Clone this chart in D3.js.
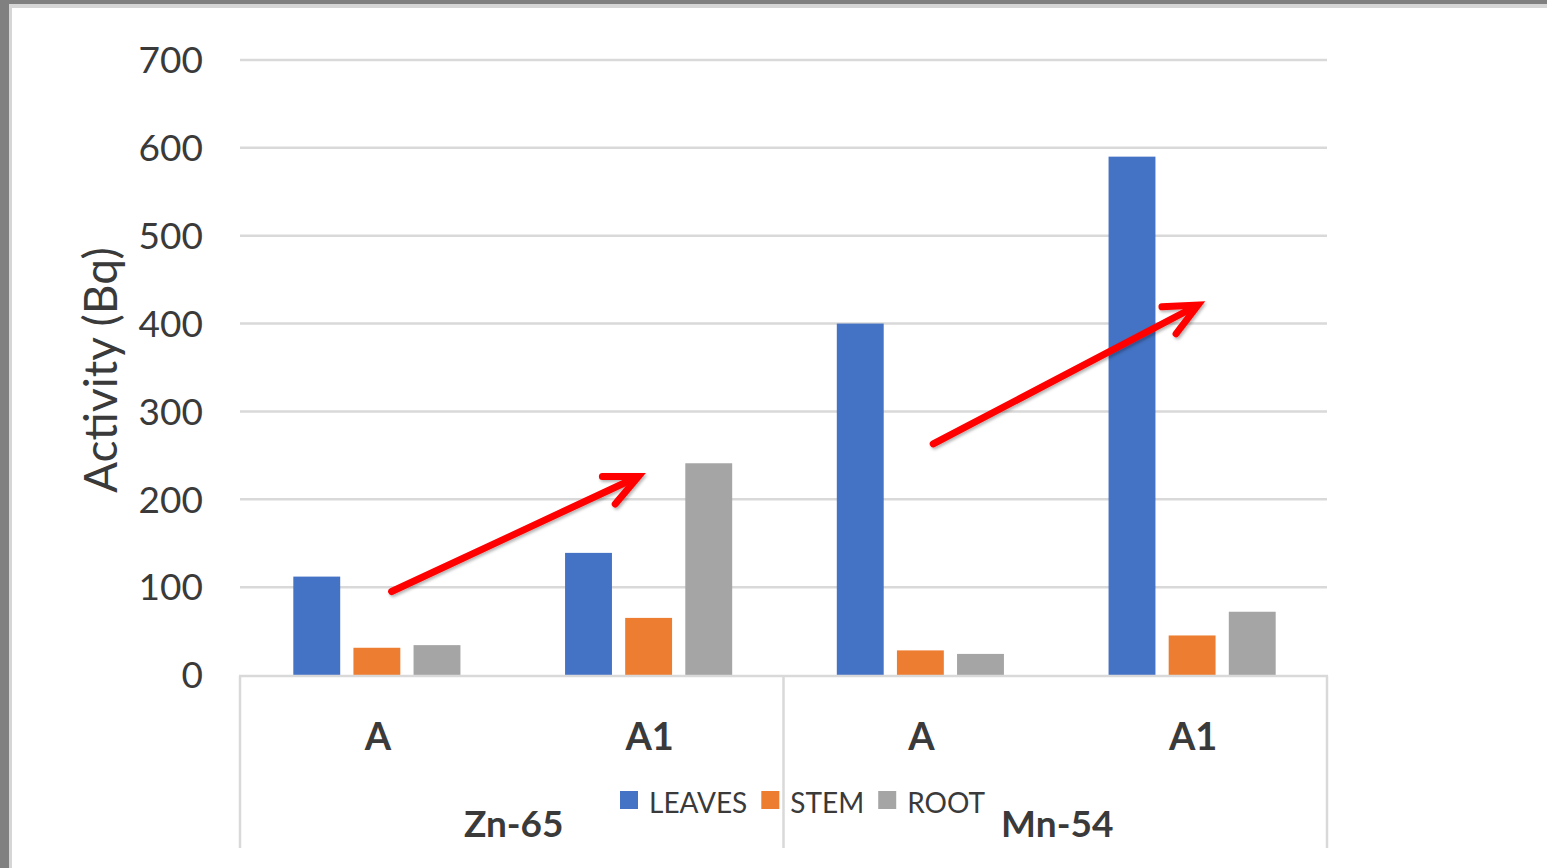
<!DOCTYPE html>
<html>
<head>
<meta charset="utf-8">
<script src="https://cdn.jsdelivr.net/npm/d3@7"></script>
<style>
  html, body { margin: 0; padding: 0; background: #fff; }
  svg { display: block; }
  text { font-family: Lato, "Open Sans", sans-serif; fill: #3a3a3a; }
</style>
</head>
<body>
<svg id="chart" width="1547" height="868"></svg>
<script>
// Activity per plant part, by sample and isotope
const categories = ["A", "A1", "A", "A1"];
const groups = ["Zn-65", "Zn-65", "Mn-54", "Mn-54"];
const seriesNames = ["LEAVES", "STEM", "ROOT"];
const leaves = [112, 139, 400, 590];
const stem = [31, 65, 28, 45];
const root = [34, 241, 24, 72];
const yTicks = [0, 100, 200, 300, 400, 500, 600, 700];
const colors = ["#4472C4", "#ED7D31", "#A5A5A5"];
// Trend arrows: [start category position, start value, end category position, end value]
const arrows = [
  [0.558, 95, 1.466, 226],
  [2.551, 263, 3.525, 421]
];

const values = [leaves, stem, root];

const W = 1547, H = 868;
const plot = { left: 240, right: 1327, top: 60, bottom: 675 };
const axisBottom = 848;

const svg = d3.select("#chart");

// window frame
svg.append("rect").attr("x", 0).attr("y", 0).attr("width", W).attr("height", H).attr("fill", "#808080");
svg.append("rect").attr("x", 9).attr("y", 4).attr("width", W - 9).attr("height", H - 4).attr("fill", "#d6d6d6");
svg.append("rect").attr("x", 12).attr("y", 8).attr("width", W - 12).attr("height", H - 8).attr("fill", "#ffffff");

const defs = svg.append("defs");
const shadow = defs.append("filter").attr("id", "arrowShadow")
  .attr("x", "-20%").attr("y", "-20%").attr("width", "140%").attr("height", "140%");
shadow.append("feDropShadow").attr("dx", 1.5).attr("dy", 2).attr("stdDeviation", 1.5)
  .attr("flood-color", "#000").attr("flood-opacity", 0.3);

const y = d3.scaleLinear().domain([0, 700]).range([plot.bottom, plot.top]);
const idx = d3.range(categories.length);
const x0 = d3.scaleBand().domain(idx).range([plot.left + 1, plot.right + 1])
  .paddingInner(0.385).paddingOuter(0.1925);
const x1 = d3.scaleBand().domain(seriesNames).range([0, x0.bandwidth()])
  .paddingInner(0.22).paddingOuter(0);
const xPos = d3.scaleLinear().domain([0, categories.length]).range([plot.left, plot.right]);

// gridlines
svg.append("g").selectAll("line").data(yTicks.filter(d => d > 0)).join("line")
  .attr("x1", plot.left).attr("x2", plot.right)
  .attr("y1", d => y(d)).attr("y2", d => y(d))
  .attr("stroke", "#d9d9d9").attr("stroke-width", 2.5);

// y tick labels
const yAxis = d3.axisLeft(y).tickValues(yTicks).tickSize(0).tickPadding(0);
const yg = svg.append("g").attr("transform", `translate(${203},1)`).call(yAxis);
yg.select(".domain").remove();
yg.selectAll("text").attr("font-size", 37).attr("fill", "#3a3a3a")
  .style("font-family", "Lato, 'Open Sans', sans-serif");

// y axis title
svg.append("text")
  .attr("transform", `translate(117,${(247 + 493) / 2}) rotate(-90)`)
  .attr("text-anchor", "middle").attr("font-size", 46)
  .text("Activity (Bq)");

// bars
const gBars = svg.append("g");
idx.forEach(i => {
  seriesNames.forEach((s, k) => {
    const v = values[k][i];
    gBars.append("rect")
      .attr("x", x0(i) + x1(s))
      .attr("y", y(v))
      .attr("width", x1.bandwidth())
      .attr("height", y(0) - y(v))
      .attr("fill", colors[k]);
  });
});

// category axis lines
const axisG = svg.append("g").attr("stroke", "#d9d9d9").attr("stroke-width", 2.5);
axisG.append("line").attr("x1", plot.left - 1).attr("x2", plot.right + 1)
  .attr("y1", y(0) + 1).attr("y2", y(0) + 1);
const groupNames = Array.from(new Set(groups));
const groupEdges = [0, ...groupNames.map(g => groups.lastIndexOf(g) + 1)];
groupEdges.forEach(e => {
  axisG.append("line").attr("x1", xPos(e)).attr("x2", xPos(e))
    .attr("y1", y(0) + 1).attr("y2", axisBottom);
});

// category labels
svg.append("g").selectAll("text").data(idx).join("text")
  .attr("x", i => x0(i) + x0.bandwidth() / 2 + 1)
  .attr("y", 750)
  .attr("text-anchor", "middle").attr("font-size", 38).attr("font-weight", "bold")
  .text(i => categories[i]);

// group labels
svg.append("g").selectAll("text").data(groupNames).join("text")
  .attr("x", g => (xPos(groups.indexOf(g)) + xPos(groups.lastIndexOf(g) + 1)) / 2 + 2)
  .attr("y", 837)
  .attr("text-anchor", "middle").attr("font-size", 37).attr("font-weight", "bold")
  .text(g => g);

// legend
const legend = svg.append("g");
let lx = 620;
seriesNames.forEach((s, k) => {
  legend.append("rect").attr("x", lx).attr("y", 791).attr("width", 18).attr("height", 18)
    .attr("fill", colors[k]);
  const t = legend.append("text").attr("x", lx + 29).attr("y", 813)
    .attr("font-size", 28).text(s);
  lx += 29 + t.node().getComputedTextLength() + 14;
});

// trend arrows
const arrowG = svg.append("g").attr("filter", "url(#arrowShadow)");
arrows.forEach(([c0, v0, c1, v1]) => {
  const sx = xPos(c0), sy = y(v0), ex = xPos(c1), ey = y(v1);
  const ang = Math.atan2(ey - sy, ex - sx);
  const len = 36, spread = 25 * Math.PI / 180;
  const a1 = [ex - len * Math.cos(ang - spread), ey - len * Math.sin(ang - spread)];
  const a2 = [ex - len * Math.cos(ang + spread), ey - len * Math.sin(ang + spread)];
  arrowG.append("line").attr("x1", sx).attr("y1", sy).attr("x2", ex - 3 * Math.cos(ang)).attr("y2", ey - 3 * Math.sin(ang))
    .attr("stroke", "#ff0000").attr("stroke-width", 7).attr("stroke-linecap", "round");
  arrowG.append("path")
    .attr("d", `M${a1[0]},${a1[1]}L${ex},${ey}L${a2[0]},${a2[1]}`)
    .attr("fill", "none").attr("stroke", "#ff0000").attr("stroke-width", 7)
    .attr("stroke-linecap", "round").attr("stroke-linejoin", "miter");
});
</script>
</body>
</html>
